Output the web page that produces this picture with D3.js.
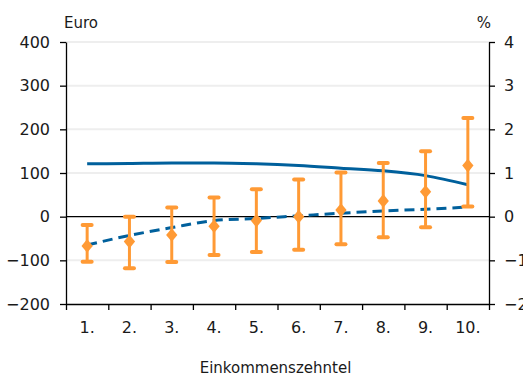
<!DOCTYPE html>
<html>
<head>
<meta charset="utf-8">
<script src="https://cdn.jsdelivr.net/npm/d3@7"></script>
<style>
  body { margin: 0; background: #fff; }
  text { font-family: "DejaVu Sans", sans-serif; fill: #1a1a1a; }
</style>
</head>
<body>
<div id="chart-area"></div>
<script>
// Einkommenszehntel (income deciles)
var deciles = ["1.", "2.", "3.", "4.", "5.", "6.", "7.", "8.", "9.", "10."];
// Euro, left axis: point estimate with range
var euroMid = [-67, -57, -42, -22, -9, 0, 15, 36, 57, 117];
var euroLow = [-103, -118, -104, -88, -81, -76, -63, -47, -24, 23];
var euroHigh = [-19, 0, 21, 44, 63, 85, 101, 123, 150, 226];
// percent, right axis
var pctSolid = [1.21, 1.22, 1.23, 1.23, 1.21, 1.17, 1.11, 1.05, 0.94, 0.73];
var pctDashed = [-0.65, -0.43, -0.25, -0.09, -0.04, 0.02, 0.08, 0.13, 0.17, 0.22];
var leftTicks = [-200, -100, 0, 100, 200, 300, 400];
var rightTicks = [-2, -1, 0, 1, 2, 3, 4];

var width = 523, height = 376;
var margin = { left: 66, right: 34, top: 42, bottom: 72 };
var plotW = width - margin.left - margin.right,
    plotH = height - margin.top - margin.bottom;

var blue = "#00609c", orange = "#ff9a35";

var svg = d3.select("#chart-area").append("svg")
    .attr("width", width)
    .attr("height", height);
var g = svg.append("g")
    .attr("transform", "translate(" + margin.left + "," + margin.top + ")");

// scales
var x = d3.scaleBand().domain(deciles).range([0, plotW]).padding(0);
var xb = d3.scaleLinear().domain([0, deciles.length]).range([0, plotW]);
var yL = d3.scaleLinear().domain([-200, 400]).range([plotH, 0]);
var yR = d3.scaleLinear().domain([-2, 4]).range([plotH, 0]);
var cx = function(i) { return x(deciles[i]) + x.bandwidth() / 2; };

// grid
g.append("g").selectAll("line")
    .data(leftTicks.filter(function(d) { return d != 0 && d != -200; }))
    .enter().append("line")
    .attr("x1", 0).attr("x2", plotW)
    .attr("y1", function(d) { return yL(d); })
    .attr("y2", function(d) { return yL(d); })
    .attr("stroke", "#eeeeee")
    .attr("stroke-width", 2);

// zero line
g.append("line")
    .attr("x1", 0).attr("x2", plotW)
    .attr("y1", yL(0)).attr("y2", yL(0))
    .attr("stroke", "#000").attr("stroke-width", 1.3);

// axes
var leftAxis = g.append("g")
    .call(d3.axisLeft(yL).tickValues(leftTicks).tickSize(6).tickSizeOuter(0).tickPadding(10));
var rightAxis = g.append("g")
    .attr("transform", "translate(" + plotW + ",0)")
    .call(d3.axisRight(yR).tickValues(rightTicks).tickFormat(d3.format("d"))
        .tickSize(6).tickSizeOuter(0).tickPadding(9));
var bottomAxis = g.append("g")
    .attr("transform", "translate(0," + plotH + ")")
    .call(d3.axisBottom(xb).ticks(10).tickFormat("").tickSize(6).tickSizeOuter(0));
var labelAxis = g.append("g")
    .attr("transform", "translate(0," + plotH + ")")
    .call(d3.axisBottom(x).tickSize(0).tickPadding(18));
labelAxis.select(".domain").remove();

[leftAxis, rightAxis, bottomAxis].forEach(function(a) {
    a.selectAll("path, line").attr("stroke", "#000").attr("stroke-width", 1.3);
});
g.selectAll(".tick text")
    .attr("font-size", "16px")
    .attr("fill", "#1a1a1a")
    .style("font-family", "'DejaVu Sans', sans-serif");

// unit labels
svg.append("text").attr("x", 64).attr("y", 28).attr("font-size", "15px").text("Euro");
svg.append("text").attr("x", 491).attr("y", 28).attr("font-size", "15px")
    .attr("text-anchor", "end").text("%");
svg.append("text").attr("x", margin.left + plotW / 2 - 2).attr("y", 373)
    .attr("font-size", "15px").attr("text-anchor", "middle").text("Einkommenszehntel");

// lines (percent)
var lineR = d3.line()
    .x(function(d, i) { return cx(i); })
    .y(function(d) { return yR(d); })
    .curve(d3.curveMonotoneX);
g.append("path")
    .attr("d", lineR(pctSolid))
    .attr("fill", "none").attr("stroke", blue).attr("stroke-width", 3);
g.append("path")
    .attr("d", lineR(pctDashed))
    .attr("fill", "none").attr("stroke", blue).attr("stroke-width", 3)
    .attr("stroke-dasharray", "10,6");

// error bars (euro)
var bars = g.append("g").selectAll("g")
    .data(euroMid)
    .enter().append("g");
bars.append("line")
    .attr("x1", function(d, i) { return cx(i); })
    .attr("x2", function(d, i) { return cx(i); })
    .attr("y1", function(d, i) { return yL(euroLow[i]); })
    .attr("y2", function(d, i) { return yL(euroHigh[i]); })
    .attr("stroke", orange).attr("stroke-width", 3);
[euroLow, euroHigh].forEach(function(arr) {
    bars.append("line")
        .attr("x1", function(d, i) { return cx(i) - 4.5; })
        .attr("x2", function(d, i) { return cx(i) + 4.5; })
        .attr("y1", function(d, i) { return yL(arr[i]); })
        .attr("y2", function(d, i) { return yL(arr[i]); })
        .attr("stroke", orange).attr("stroke-width", 4)
        .attr("stroke-linecap", "round");
});
bars.append("path")
    .attr("d", d3.symbol().type(d3.symbolDiamond2).size(90))
    .attr("transform", function(d, i) { return "translate(" + cx(i) + "," + yL(d) + ") scale(0.95,1.15)"; })
    .attr("fill", orange);
</script>
</body>
</html>
